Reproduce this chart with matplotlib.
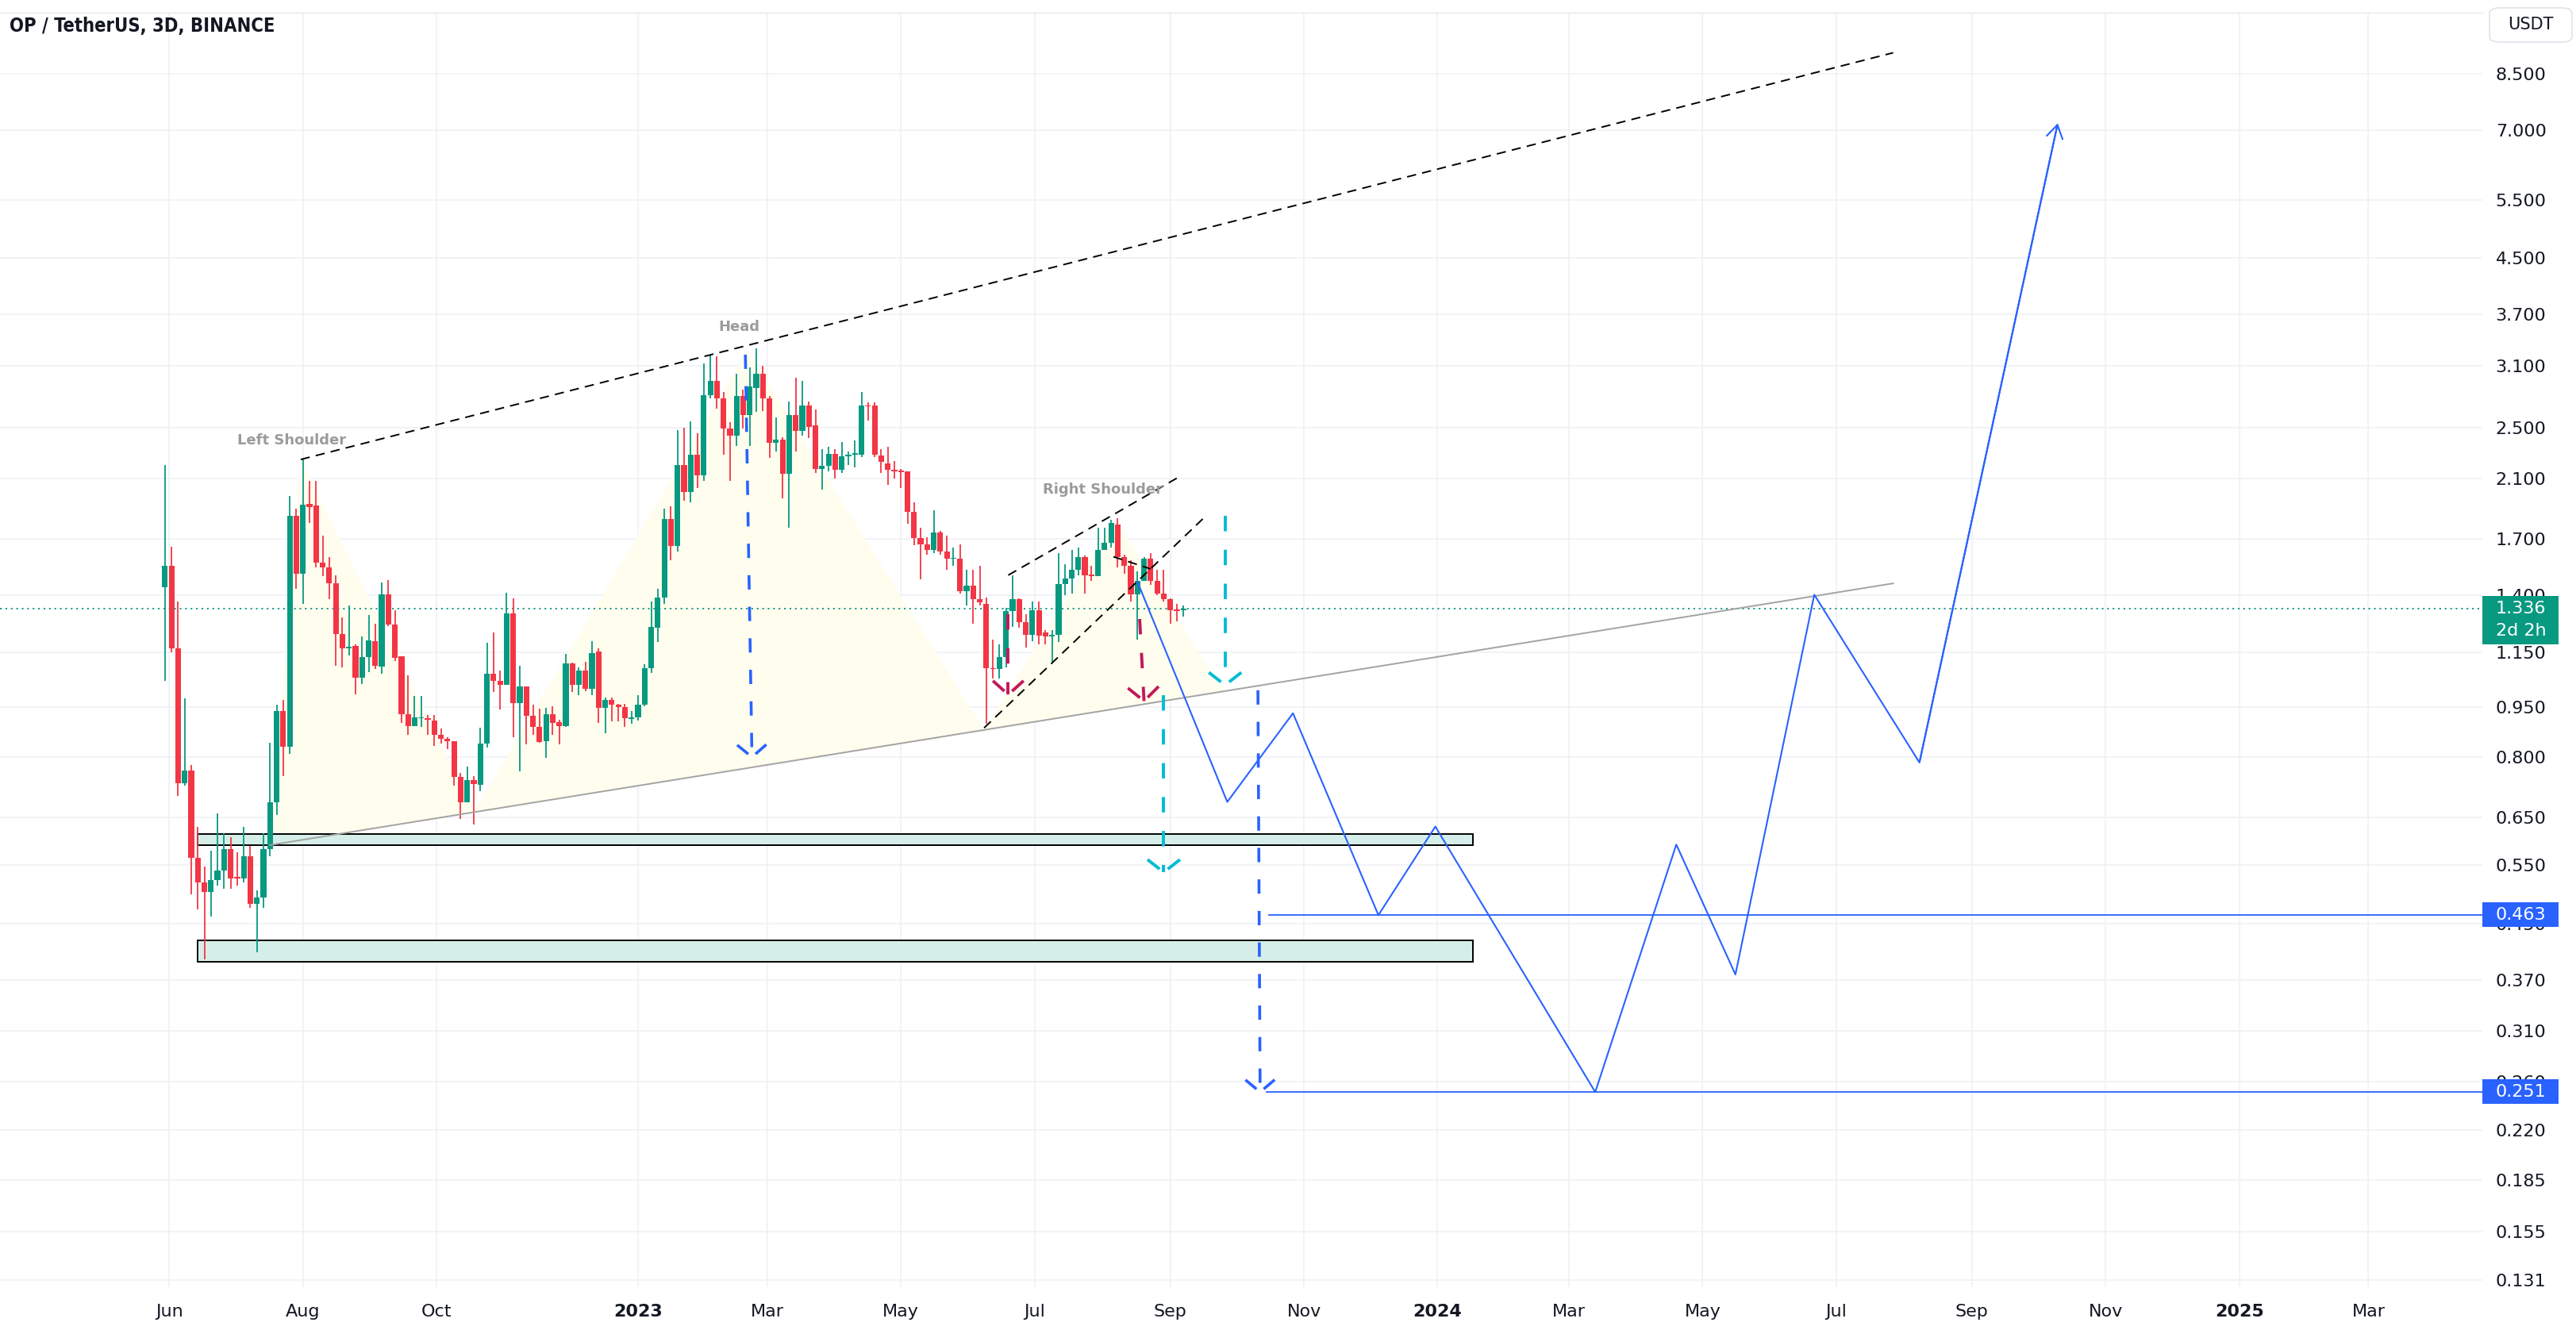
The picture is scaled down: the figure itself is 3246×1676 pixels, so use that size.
import numpy as np
import pandas as pd
import matplotlib
matplotlib.use("Agg")
import matplotlib.pyplot as plt
import matplotlib.dates as mdates
import matplotlib.ticker as mticker
from matplotlib.patches import Rectangle, Polygon, FancyBboxPatch

W, H = 3246, 1676
GREEN = "#089981"
RED = "#f23645"
BLUE = "#2962ff"
CYAN = "#00bcd4"
CRIMSON = "#c2185b"
GRID = "#eef0f4"
TXT = "#131722"

# OP / USDT 3D candles, first bar 2022-05-30
first_bar = "2022-05-30"
opens = [1.44, 1.55, 1.166, 0.731, 0.763, 0.565, 0.519, 0.501, 0.522, 0.540,
         0.5815, 0.528, 0.526, 0.568, 0.482, 0.4925, 0.5815, 0.685, 0.939, 0.828,
         1.842, 1.509, 1.92, 1.91, 1.569, 1.54, 1.458, 1.223, 1.166, 1.175,
         1.054, 1.132, 1.193, 1.093, 1.406, 1.264, 1.135, 0.929, 0.890, 0.915,
         0.915, 0.908, 0.865, 0.852, 0.844, 0.746, 0.684, 0.738, 0.727, 0.838,
         1.066, 1.04, 1.026, 1.315, 0.964, 1.021, 0.923, 0.888, 0.845, 0.929,
         0.902, 0.890, 1.106, 1.026, 1.08, 1.012, 1.152, 0.949, 0.974, 0.958,
         0.951, 0.913, 0.918, 0.958, 1.087, 1.253, 1.391, 1.822, 1.662, 2.20,
         2.0, 2.28, 2.12, 2.80, 2.94, 2.77, 2.49, 2.43, 2.79, 2.61,
         2.87, 3.01, 2.77, 2.37, 2.40, 2.13, 2.61, 2.47, 2.70, 2.52,
         2.17, 2.19, 2.285, 2.16, 2.265, 2.28, 2.28, 2.70, 2.70, 2.27,
         2.21, 2.16, 2.155, 2.15, 1.868, 1.705, 1.67, 1.64, 1.74, 1.63,
         1.588, 1.59, 1.42, 1.446, 1.38, 1.36, 1.089, 1.085, 1.13, 1.325,
         1.381, 1.277, 1.22, 1.331, 1.232, 1.215, 1.22, 1.455, 1.485, 1.531,
         1.60, 1.50, 1.497, 1.64, 1.68, 1.79, 1.60, 1.55, 1.406, 1.47,
         1.59, 1.47, 1.41, 1.38, 1.331, 1.33]
highs = [2.20, 1.655, 1.369, 0.981, 0.778, 0.628, 0.548, 0.578, 0.659, 0.614,
         0.607, 0.575, 0.628, 0.589, 0.504, 0.614, 0.841, 0.958, 0.975, 1.972,
         1.891, 2.247, 2.08, 2.08, 1.722, 1.598, 1.50, 1.298, 1.353, 1.18,
         1.215, 1.308, 1.27, 1.463, 1.475, 1.331, 1.135, 1.062, 0.987, 0.988,
         0.925, 0.925, 0.884, 0.856, 0.846, 0.757, 0.774, 0.750, 0.886, 1.187,
         1.23, 1.08, 1.413, 1.387, 1.098, 1.021, 0.958, 0.945, 0.948, 0.954,
         0.91, 1.144, 1.11, 1.092, 1.111, 1.196, 1.166, 0.984, 0.984, 0.962,
         0.962, 0.937, 0.99, 1.102, 1.369, 1.43, 1.89, 1.905, 2.48, 2.50,
         2.555, 2.45, 3.12, 3.22, 3.2, 2.83, 2.55, 3.01, 2.85, 3.08,
         3.29, 3.1, 2.79, 2.59, 2.42, 2.74, 2.97, 2.94, 2.74, 2.66,
         2.32, 2.34, 2.32, 2.38, 2.30, 2.39, 2.83, 2.73, 2.73, 2.32,
         2.34, 2.23, 2.17, 2.15, 1.93, 1.77, 1.71, 1.88, 1.75, 1.72,
         1.65, 1.67, 1.53, 1.53, 1.55, 1.39, 1.20, 1.18, 1.34, 1.50,
         1.385, 1.31, 1.372, 1.372, 1.24, 1.24, 1.62, 1.56, 1.64, 1.65,
         1.605, 1.55, 1.77, 1.77, 1.82, 1.83, 1.61, 1.58, 1.52, 1.60,
         1.62, 1.53, 1.53, 1.385, 1.36, 1.35]
lows = [1.04, 1.15, 0.70, 0.725, 0.498, 0.472, 0.3975, 0.461, 0.513, 0.507,
        0.507, 0.513, 0.519, 0.475, 0.407, 0.475, 0.568, 0.655, 0.749, 0.808,
        1.43, 1.36, 1.80, 1.54, 1.496, 1.382, 1.098, 1.092, 1.136, 0.993,
        1.029, 1.073, 1.085, 1.066, 1.259, 1.114, 0.901, 0.863, 0.89, 0.888,
        0.865, 0.832, 0.838, 0.822, 0.724, 0.646, 0.684, 0.634, 0.711, 0.826,
        1.002, 0.944, 1.026, 0.858, 0.762, 0.835, 0.863, 0.84, 0.797, 0.865,
        0.835, 0.888, 1.002, 0.992, 1.005, 0.99, 0.90, 0.868, 0.905, 0.905,
        0.887, 0.897, 0.908, 0.953, 1.07, 1.19, 1.36, 1.58, 1.63, 1.94,
        1.93, 2.03, 2.08, 2.77, 2.67, 2.28, 2.08, 2.35, 2.49, 2.35,
        2.64, 2.65, 2.25, 2.30, 1.96, 1.77, 2.30, 2.43, 2.41, 2.14,
        2.02, 2.15, 2.10, 2.14, 2.20, 2.18, 2.26, 2.56, 2.26, 2.14,
        2.05, 2.10, 2.03, 1.793, 1.665, 1.48, 1.61, 1.62, 1.61, 1.53,
        1.55, 1.41, 1.35, 1.27, 1.35, 0.899, 1.05, 1.05, 1.09, 1.254,
        1.253, 1.17, 1.195, 1.18, 1.18, 1.107, 1.19, 1.40, 1.41, 1.50,
        1.41, 1.47, 1.497, 1.64, 1.65, 1.54, 1.51, 1.37, 1.20, 1.47,
        1.45, 1.40, 1.37, 1.27, 1.28, 1.30]
closes = [1.55, 1.166, 0.731, 0.763, 0.565, 0.519, 0.501, 0.522, 0.540, 0.5815,
          0.526, 0.525, 0.568, 0.482, 0.4925, 0.5815, 0.685, 0.939, 0.828, 1.842,
          1.509, 1.916, 1.90, 1.569, 1.54, 1.458, 1.223, 1.166, 1.172, 1.054,
          1.132, 1.197, 1.098, 1.406, 1.264, 1.129, 0.929, 0.890, 0.917, 0.918,
          0.911, 0.865, 0.852, 0.844, 0.746, 0.684, 0.738, 0.729, 0.838, 1.066,
          1.04, 1.026, 1.315, 0.964, 1.021, 0.923, 0.888, 0.842, 0.929, 0.90,
          0.890, 1.106, 1.026, 1.08, 1.012, 1.147, 0.949, 0.974, 0.958, 0.951,
          0.914, 0.916, 0.958, 1.087, 1.255, 1.391, 1.822, 1.662, 2.20, 2.0,
          2.28, 2.12, 2.80, 2.94, 2.77, 2.49, 2.43, 2.79, 2.61, 2.88,
          3.01, 2.77, 2.37, 2.40, 2.13, 2.61, 2.47, 2.70, 2.51, 2.17,
          2.19, 2.285, 2.16, 2.265, 2.28, 2.285, 2.70, 2.69, 2.28, 2.22,
          2.16, 2.15, 2.145, 1.868, 1.705, 1.67, 1.64, 1.74, 1.63, 1.59,
          1.592, 1.42, 1.446, 1.38, 1.365, 1.089, 1.085, 1.13, 1.325, 1.381,
          1.277, 1.22, 1.331, 1.218, 1.215, 1.222, 1.455, 1.485, 1.531, 1.60,
          1.50, 1.497, 1.64, 1.68, 1.80, 1.60, 1.55, 1.406, 1.47, 1.59,
          1.47, 1.41, 1.38, 1.331, 1.327, 1.336]
last_price = 1.336
last_timer = "2d 2h"

price_ticks = [8.5, 7.0, 5.5, 4.5, 3.7, 3.1, 2.5, 2.1, 1.7, 1.4, 1.15, 0.95, 0.8,
               0.65, 0.55, 0.45, 0.37, 0.31, 0.26, 0.22, 0.185, 0.155, 0.131]
month_ticks = ["2022-06-01", "2022-08-01", "2022-10-01", "2023-01-01", "2023-03-01",
               "2023-05-01", "2023-07-01", "2023-09-01", "2023-11-01", "2024-01-01",
               "2024-03-01", "2024-05-01", "2024-07-01", "2024-09-01", "2024-11-01",
               "2025-01-01", "2025-03-01"]
month_labels = ["Jun", "Aug", "Oct", "2023", "Mar", "May", "Jul", "Sep", "Nov", "2024",
                "Mar", "May", "Jul", "Sep", "Nov", "2025", "Mar"]

# drawings on the chart, as (date, price)
top_line = [("2022-07-31", 2.24), ("2024-07-27", 9.15)]
neckline = [("2022-07-17", 0.59), ("2024-07-27", 1.459)]
hs_peaks = [("2022-07-31", 2.24), ("2023-02-20", 3.27), ("2023-08-07", 1.82)]
hs_necks = ["2022-07-17", "2022-10-18", "2023-06-08", "2023-09-25"]
channel_upper = [("2023-06-19", 1.501), ("2023-09-04", 2.10)]
channel_lower = [("2023-06-08", 0.885), ("2023-09-16", 1.826)]
channel_mid = [("2023-08-06", 1.60), ("2023-08-23", 1.534)]
zones = [(0.590, 0.613), (0.394, 0.424)]
zone_span = ("2022-06-14", "2024-01-17")
blue_arrows = [[("2023-02-19", 3.22), ("2023-02-22", 0.80)],
               [("2023-10-11", 1.008), ("2023-10-12", 0.251)]]
cyan_arrows = [[("2023-09-26", 1.843), ("2023-09-26", 1.026)],
               [("2023-08-29", 0.99), ("2023-08-29", 0.537)]]
crimson_arrows = [[("2023-06-19", 1.313), ("2023-06-19", 0.993)],
                  [("2023-08-18", 1.29), ("2023-08-20", 0.971)]]
path_dates = ["2023-08-17", "2023-09-27", "2023-10-27", "2023-12-05", "2023-12-31",
              "2024-03-13", "2024-04-19", "2024-05-16", "2024-06-21", "2024-08-08",
              "2024-10-10"]
path_prices = [1.467, 0.685, 0.931, 0.463, 0.629, 0.251, 0.591, 0.377, 1.403, 0.785, 7.13]
targets = [0.463, 0.251]
target_starts = ["2023-10-16", "2023-10-15"]
pattern_labels = [("Left Shoulder", "2022-07-27", 2.39),
                  ("Head", "2023-02-16", 3.54),
                  ("Right Shoulder", "2023-08-01", 2.02)]


def num(d):
    return mdates.date2num(pd.Timestamp(d))


fig = plt.figure(figsize=(W / 100, H / 100), dpi=100, facecolor="white")
ax = fig.add_axes([0, 1 - 1622 / H, 3128 / W, (1622 - 16) / H])
ax.set_yscale("log")
jan23 = num("2023-01-01")
ax.set_xlim(jan23 - 291.3, jan23 + 842.0)
ax.set_ylim(0.1278, 10.51)

# axes look
for s in ["left", "right", "bottom"]:
    ax.spines[s].set_visible(False)
ax.spines["top"].set_color("#e0e3eb")
ax.set_axisbelow(True)
ax.yaxis.tick_right()
ax.set_yticks(price_ticks)
ax.set_yticklabels([f"{v:.3f}" for v in price_ticks])
ax.yaxis.set_minor_locator(mticker.NullLocator())
ax.set_xticks([num(d) for d in month_ticks])
ax.set_xticklabels(month_labels)
for t in ax.get_xticklabels():
    if t.get_text().isdigit():
        t.set_fontweight("bold")
ax.xaxis.set_minor_locator(mticker.NullLocator())
ax.tick_params(axis="y", length=0, pad=12, labelsize=16, labelcolor=TXT)
ax.tick_params(axis="x", length=0, pad=15, labelsize=16, labelcolor=TXT)
ax.grid(True, color=GRID, lw=1.1)

# head and shoulders shading
poly = []
for i, nd in enumerate(hs_necks):
    poly.append((num(nd), None))
    if i < len(hs_peaks):
        poly.append((num(hs_peaks[i][0]), hs_peaks[i][1]))
na, nb = num(neckline[0][0]), num(neckline[1][0])
la, lb = np.log10(neckline[0][1]), np.log10(neckline[1][1])
poly = [(x, y if y is not None else 10 ** (la + (x - na) / (nb - na) * (lb - la))) for x, y in poly]
ax.add_patch(Polygon(poly, closed=True, facecolor="#fffdee", edgecolor="none", zorder=1))

# support zones
z0, z1 = num(zone_span[0]), num(zone_span[1])
for lo, hi in zones:
    ax.add_patch(Rectangle((z0, lo), z1 - z0, hi - lo, facecolor="#d6eee9",
                           edgecolor="black", lw=1.4, zorder=2))

# candles
dates = pd.date_range(first_bar, periods=len(opens), freq="3D")
xs = mdates.date2num(dates)
o, h, l, c = map(np.array, (opens, highs, lows, closes))
cols = np.where(c >= o, GREEN, RED)
ax.vlines(xs, l, h, colors=cols, lw=1.3, zorder=3)
bot = np.minimum(o, c)
top = np.maximum(np.maximum(o, c), bot * 1.004)
ax.bar(xs, top - bot, bottom=bot, width=2.6, color=cols, lw=0, zorder=4)

# current price line
ax.axhline(last_price, color=GREEN, lw=1.3, ls=(0, (1.2, 2.6)), zorder=2.5)


def seg(pts, **kw):
    ax.plot([num(p[0]) for p in pts], [p[1] for p in pts], **kw)


seg(neckline, color="#a3a3a3", lw=1.4, zorder=5)
black_dash = dict(color="black", lw=1.4, ls=(0, (6, 4)), zorder=5)
seg(top_line, **black_dash)
seg(channel_upper, **black_dash)
seg(channel_lower, **black_dash)
seg(channel_mid, **black_dash)


def arrow(p0, p1, color, lw, ls, head=25, spread=50, z=6):
    x0, y0 = num(p0[0]), p0[1]
    x1, y1 = num(p1[0]), p1[1]
    ax.plot([x0, x1], [y0, y1], color=color, lw=lw, ls=ls, zorder=z,
            solid_capstyle="butt", dash_capstyle="butt")
    a = ax.transData.transform((x0, y0))
    b = ax.transData.transform((x1, y1))
    u = (a - b) / np.hypot(*(a - b))
    inv = ax.transData.inverted()
    for sgn in (1, -1):
        t = np.radians(spread) * sgn
        r = np.array([[np.cos(t), -np.sin(t)], [np.sin(t), np.cos(t)]])
        w = inv.transform(b + head * (r @ u))
        ax.plot([w[0], x1], [w[1], y1], color=color, lw=lw, ls=ls, zorder=z,
                solid_capstyle="butt", dash_capstyle="butt")


thick_dash = (0, (5, 6))
for p0, p1 in blue_arrows:
    arrow(p0, p1, BLUE, 2.6, thick_dash, head=24, spread=50)
for p0, p1 in cyan_arrows:
    arrow(p0, p1, CYAN, 2.8, thick_dash, head=26, spread=52)
for p0, p1 in crimson_arrows:
    arrow(p0, p1, CRIMSON, 2.8, thick_dash, head=26, spread=48)

# projected path
ax.plot([num(d) for d in path_dates], path_prices, color=BLUE, lw=1.5, zorder=6)
arrow((path_dates[-2], path_prices[-2]), (path_dates[-1], path_prices[-1]),
      BLUE, 1.5, "-", head=20, spread=32)

# target lines
for p, d in zip(targets, target_starts):
    ax.plot([num(d), ax.get_xlim()[1]], [p, p], color=BLUE, lw=1.3, zorder=5)

for txt, d, p in pattern_labels:
    ax.text(num(d), p, txt, ha="center", va="center", fontsize=13,
            fontweight="bold", color="#9b9b9b", zorder=7)


# price tags on the scale
def price_tag(price, lines, color):
    y = ax.transData.transform((ax.get_xlim()[0], price))[1]
    hgt = 31 + 30 * (len(lines) - 1)
    topy = y + 16
    fig.add_artist(Rectangle((3128 / W, (topy - hgt) / H), 96 / W, hgt / H,
                             transform=fig.transFigure, facecolor=color,
                             edgecolor="none", zorder=5))
    for i, t in enumerate(lines):
        fig.text(3145 / W, (y - 28 * i) / H, t, color="white", fontsize=16,
                 ha="left", va="center", zorder=6)


price_tag(last_price, [f"{last_price:.3f}", last_timer], GREEN)
for p in targets:
    price_tag(p, [f"{p:.3f}"], BLUE)

fig.add_artist(FancyBboxPatch((3137 / W, 1 - 53 / H), 104 / W, 43 / H,
                              boxstyle="round,pad=0,rounding_size=0.004",
                              transform=fig.transFigure, facecolor="white",
                              edgecolor="#e0e3eb", lw=1.2, zorder=5))
fig.text(3189 / W, 1 - 31 / H, "USDT", fontsize=15, color=TXT, ha="center",
         va="center", zorder=6)

fig.text(12 / W, 1 - 33 / H, "OP / TetherUS, 3D, BINANCE", fontsize=17,
         fontweight="bold", fontstretch="condensed", color=TXT, ha="left",
         va="center", family=["Liberation Sans Narrow", "DejaVu Sans"])

fig.savefig("out.png", dpi=100, facecolor="white")
